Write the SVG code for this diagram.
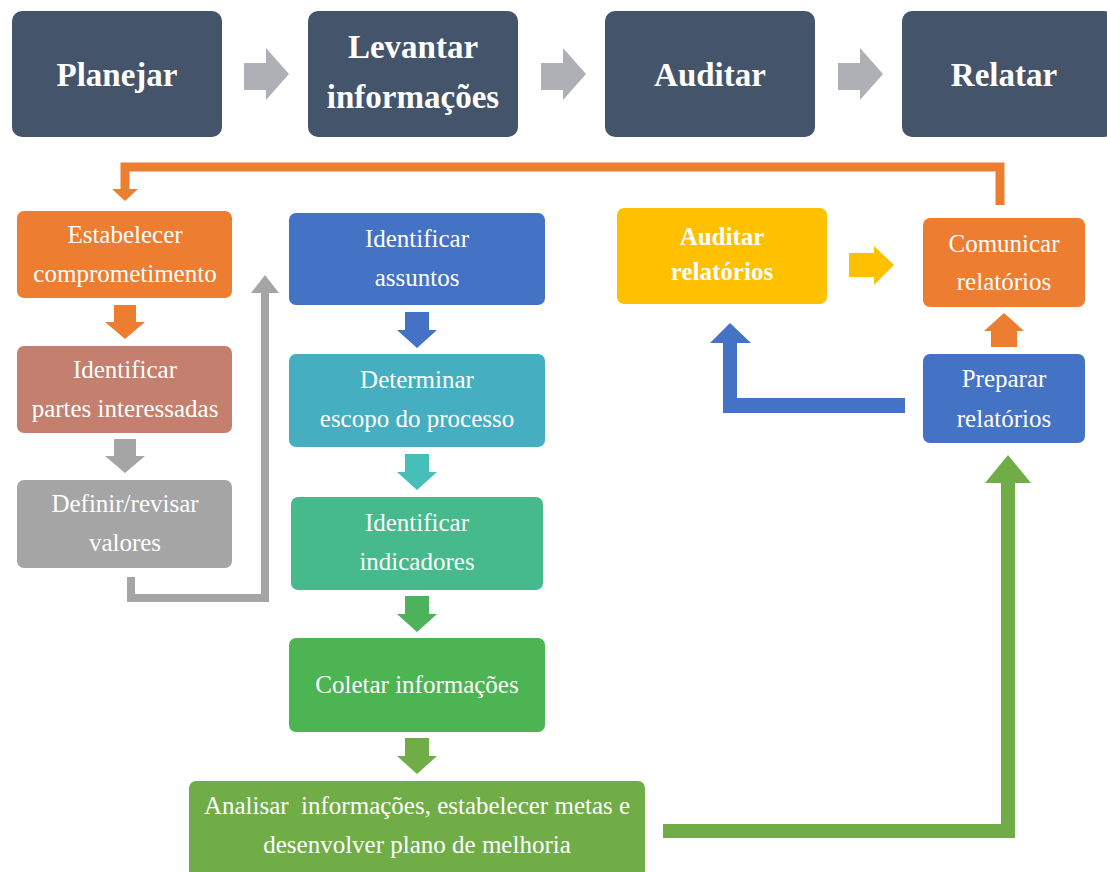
<svg xmlns="http://www.w3.org/2000/svg" width="1107" height="872" viewBox="0 0 1107 872">
  <style>
    .phase { fill: #44546A; }
    .t { font-family: "Liberation Serif", "Times New Roman", serif; fill: #FFFFFF; text-anchor: middle; }
    .big { font-size: 33px; font-weight: bold; }
    .small { font-size: 25px; }
    .bold { font-weight: bold; }
  </style>
  <rect width="1107" height="872" fill="#FFFFFF"/>

  <!-- phase arrows between top boxes -->
  <g id="phase-arrows" fill="#AEB0B5">
    <polygon points="244,63 266,63 266,48 289,74 266,100 266,90 244,90"/>
    <polygon points="541,63 563,63 563,48 586,74 563,100 563,90 541,90"/>
    <polygon points="838,63 860,63 860,48 883,74 860,100 860,90 838,90"/>
  </g>

  <!-- connectors -->
  <g id="connectors">
    <!-- feedback from Comunicar back to Estabelecer -->
    <polyline points="1000,205 1000,167 125,167 125,190" fill="none" stroke="#ED7D31" stroke-width="9"/>
    <polygon points="112,189 138,189 125,201" fill="#ED7D31"/>
    <!-- left column arrows -->
    <polygon points="114,305 136,305 136,322 145,322 125,339 105,322 114,322" fill="#ED7D31"/>
    <polygon points="114,439 136,439 136,456 145,456 125,473 105,456 114,456" fill="#A5A5A5"/>
    <!-- Definir -> Identificar assuntos -->
    <polyline points="131,577 131,598 265,598 265,292" fill="none" stroke="#A5A5A5" stroke-width="8"/>
    <polygon points="251,293 265,275 279,293" fill="#A5A5A5"/>
    <!-- middle column arrows -->
    <polygon points="405,312 429,312 429,330 437,330 417,348 397,330 405,330" fill="#4472C4"/>
    <polygon points="405,454 429,454 429,472 437,472 417,490 397,472 405,472" fill="#45BFB8"/>
    <polygon points="405,596 429,596 429,614 437,614 417,632 397,614 405,614" fill="#4CB35C"/>
    <polygon points="405,738 429,738 429,756 437,756 417,774 397,756 405,756" fill="#70AD47"/>
    <!-- Analisar -> Preparar -->
    <polygon points="663,824 1001,824 1001,483 985,483 1008,455 1031,483 1015,483 1015,838 663,838" fill="#70AD47"/>
    <!-- Preparar -> Auditar relatorios -->
    <polygon points="905,398 737,398 737,343 751,343 730,323 710,343 723,343 723,413 905,413" fill="#4472C4"/>
    <!-- Preparar -> Comunicar -->
    <polygon points="991,347 991,331 984,331 1004,313 1024,331 1017,331 1017,347" fill="#ED7D31"/>
    <!-- Auditar relatorios -> Comunicar -->
    <polygon points="849,253 874,253 874,246 894,265 874,285 874,277 849,277" fill="#FFC000"/>
  </g>

  <!-- top phases -->
  <g id="planejar">
    <rect class="phase" x="12" y="11" width="210" height="126" rx="10"/>
    <text class="t big" x="117" y="86">Planejar</text>
  </g>
  <g id="levantar">
    <rect class="phase" x="308" y="11" width="210" height="126" rx="10"/>
    <text class="t big" x="413" y="58">Levantar</text>
    <text class="t big" x="413" y="108">informações</text>
  </g>
  <g id="auditar">
    <rect class="phase" x="605" y="11" width="210" height="126" rx="10"/>
    <text class="t big" x="710" y="86">Auditar</text>
  </g>
  <g id="relatar">
    <rect class="phase" x="902" y="11" width="212" height="126" rx="10"/>
    <text class="t big" x="1004" y="86">Relatar</text>
  </g>

  <!-- left column -->
  <g id="estabelecer">
    <rect x="17" y="211" width="215" height="87" rx="7" fill="#ED7D31"/>
    <text class="t small" x="125" y="243">Estabelecer</text>
    <text class="t small" x="125" y="282">comprometimento</text>
  </g>
  <g id="partes">
    <rect x="17" y="346" width="215" height="87" rx="7" fill="#C47F6E"/>
    <text class="t small" x="125" y="378">Identificar</text>
    <text class="t small" x="125" y="417">partes interessadas</text>
  </g>
  <g id="definir">
    <rect x="17" y="480" width="215" height="88" rx="7" fill="#A5A5A5"/>
    <text class="t small" x="125" y="512">Definir/revisar</text>
    <text class="t small" x="125" y="551">valores</text>
  </g>

  <!-- middle column -->
  <g id="assuntos">
    <rect x="289" y="213" width="256" height="92" rx="7" fill="#4472C4"/>
    <text class="t small" x="417" y="247">Identificar</text>
    <text class="t small" x="417" y="286">assuntos</text>
  </g>
  <g id="escopo">
    <rect x="289" y="354" width="256" height="93" rx="7" fill="#45AEC0"/>
    <text class="t small" x="417" y="388">Determinar</text>
    <text class="t small" x="417" y="427">escopo do processo</text>
  </g>
  <g id="indicadores">
    <rect x="291" y="497" width="252" height="93" rx="7" fill="#46BA8C"/>
    <text class="t small" x="417" y="531">Identificar</text>
    <text class="t small" x="417" y="570">indicadores</text>
  </g>
  <g id="coletar">
    <rect x="289" y="638" width="256" height="94" rx="7" fill="#4CB452"/>
    <text class="t small" x="417" y="693">Coletar informações</text>
  </g>
  <g id="analisar">
    <rect x="189" y="781" width="456" height="100" rx="7" fill="#70AD47"/>
    <text class="t small" x="417" y="814" xml:space="preserve">Analisar  informações, estabelecer metas e</text>
    <text class="t small" x="417" y="853">desenvolver plano de melhoria</text>
  </g>

  <!-- right side -->
  <g id="auditar-relatorios">
    <rect x="617" y="208" width="210" height="96" rx="7" fill="#FFC000"/>
    <text class="t small bold" x="722" y="245">Auditar</text>
    <text class="t small bold" x="722" y="280">relatórios</text>
  </g>
  <g id="comunicar">
    <rect x="923" y="218" width="162" height="89" rx="7" fill="#ED7D31"/>
    <text class="t small" x="1004" y="252">Comunicar</text>
    <text class="t small" x="1004" y="290">relatórios</text>
  </g>
  <g id="preparar">
    <rect x="923" y="354" width="162" height="89" rx="7" fill="#4472C4"/>
    <text class="t small" x="1004" y="387">Preparar</text>
    <text class="t small" x="1004" y="427">relatórios</text>
  </g>
</svg>
